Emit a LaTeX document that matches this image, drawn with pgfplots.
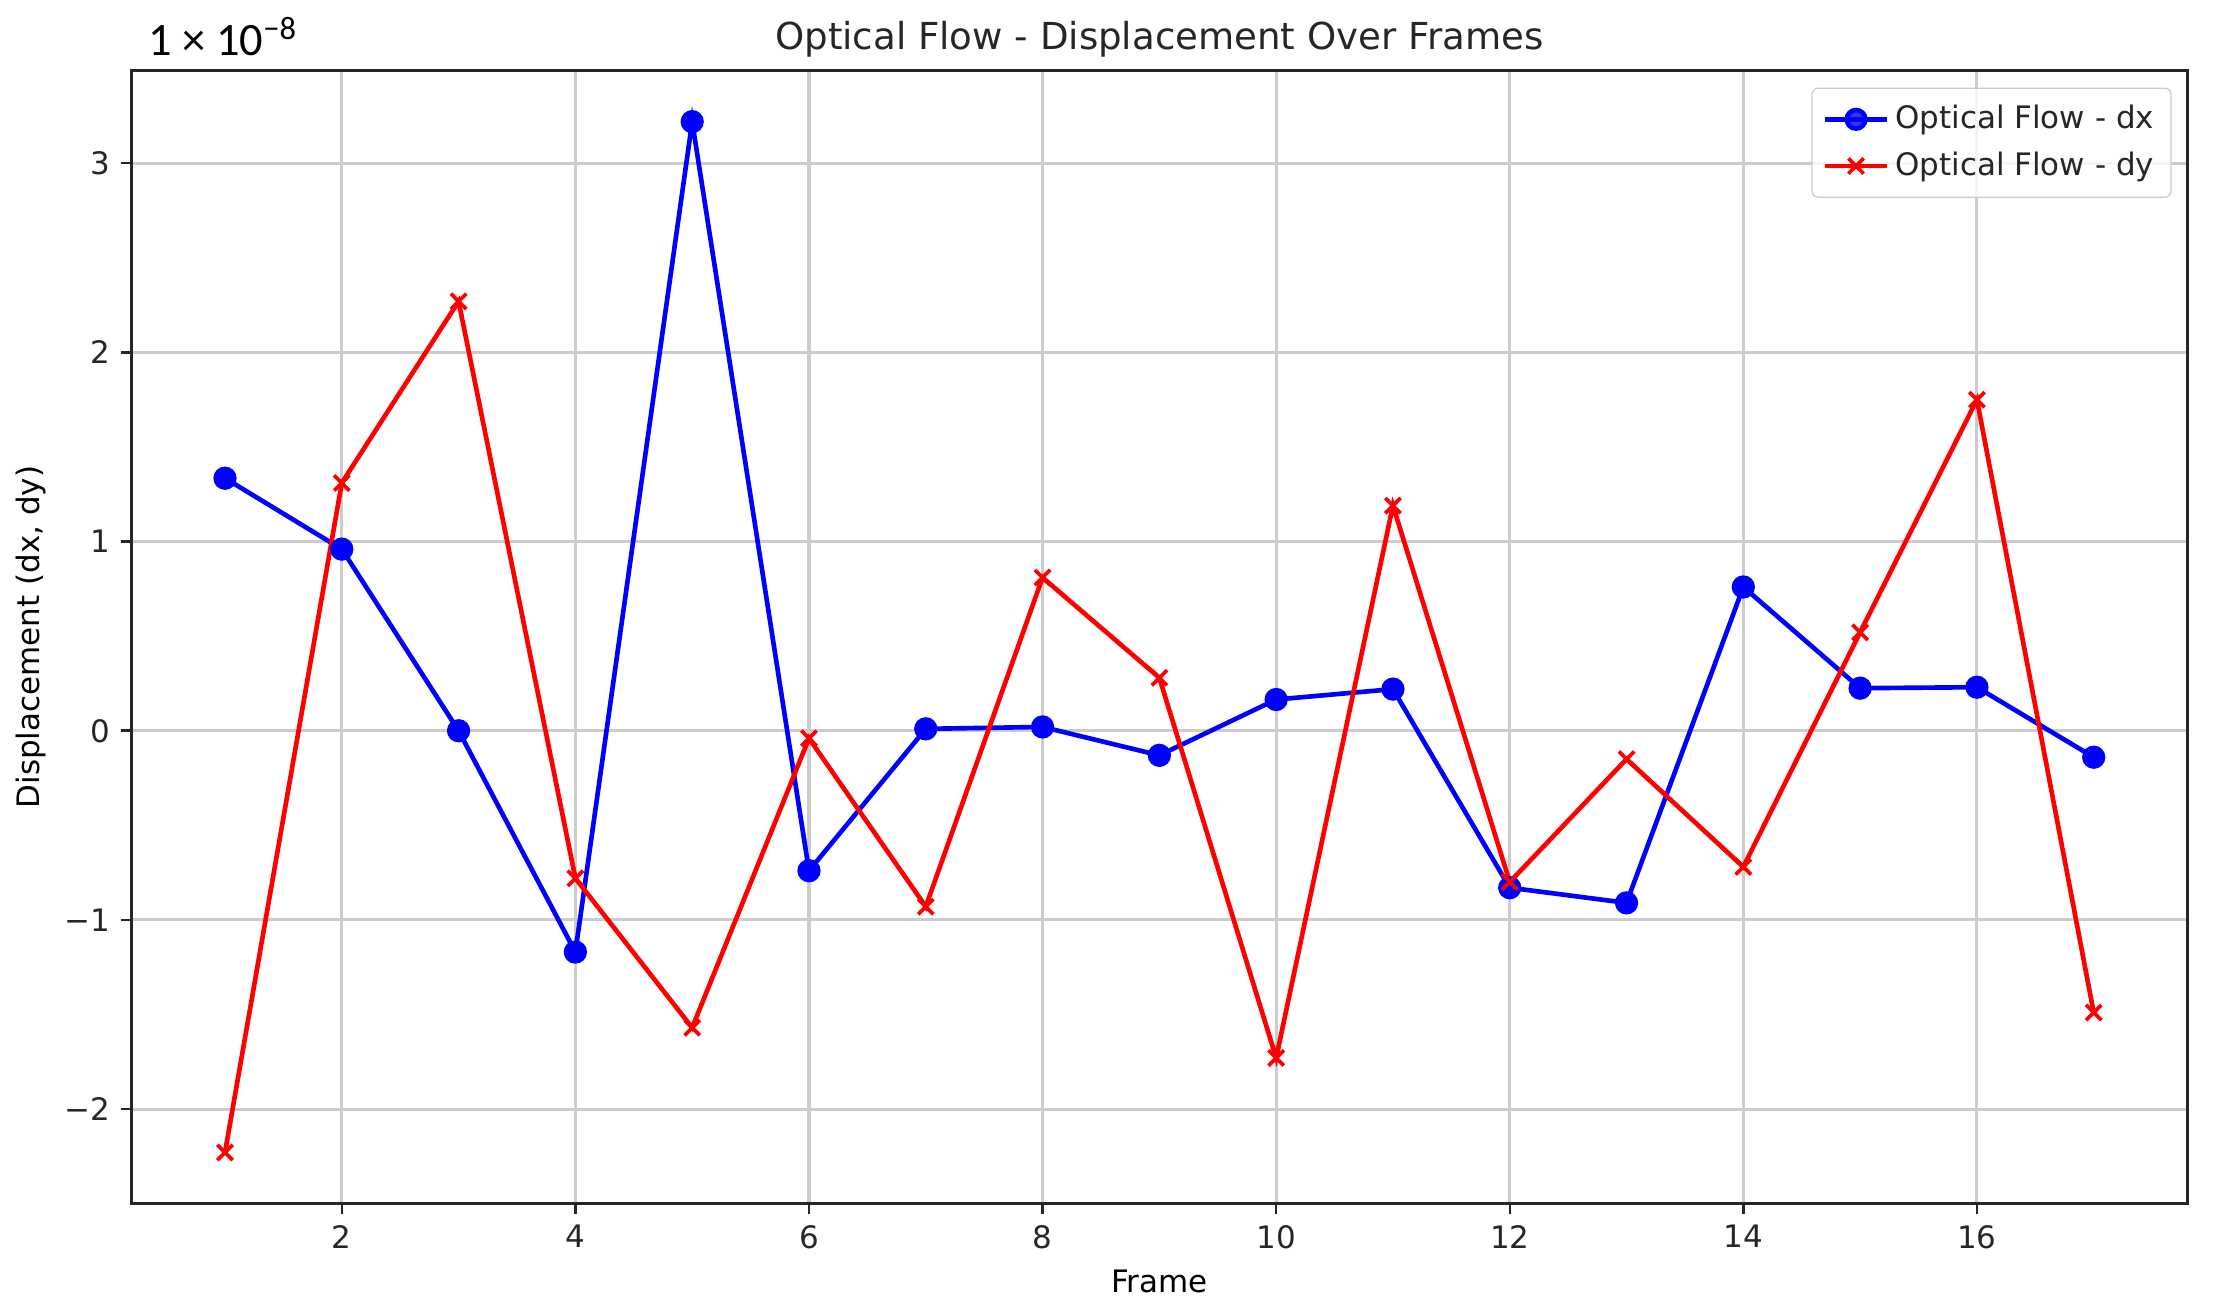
\documentclass[border=0pt]{standalone}
\usepackage{fontspec}
\setmainfont{DejaVu Sans}
\newfontfamily\calfont{Carlito}
\usepackage{pgfplots}
\pgfplotsset{compat=1.18}
\begin{document}
\begin{tikzpicture}
\begin{axis}[
  scale only axis, width=664pt, height=366pt,
  xmin=0.2, xmax=17.8, ymin=-2.5, ymax=3.49,
  xtick={2,4,6,8,10,12,14,16},
  xticklabels={2,4,6,8,10,12,14,16},
  ytick={-2,-1,0,1,2,3},
  yticklabels={−2,−1,0,1,2,3},
  grid=major,
  major grid style={color=black!20, line width=1pt},
  axis line style={line width=0.9pt, black!85},
  tick align=outside, tick pos=left, major tick length=3.5pt,
  tick style={line width=0.8pt, black!85},
  ticklabel style={font=\fontsize{10}{12}\selectfont, text=black!85},
  /pgf/number format/assume math mode=true,
  xlabel={Frame},
  ylabel={Displacement (dx, dy)},
  label style={font=\fontsize{10}{12}\selectfont, text=black!85},
  every axis x label/.style={at={([yshift=-25pt]axis description cs:0.5,0)}, anchor=center},
  every axis y label/.style={at={([xshift=-32.5pt]axis description cs:0,0.5)}, anchor=center, rotate=90},
  title={Optical Flow - Displacement Over Frames},
  every axis title/.style={at={([yshift=10pt]axis description cs:0.5,1)}, anchor=center, font=\fontsize{12}{14}\selectfont, text=black!85},
  legend style={at={(0.9925,0.985)}, anchor=north east, draw=black!20, rounded corners=2pt,
    fill=white, fill opacity=0.8, text opacity=1, font=\fontsize{10}{12}\selectfont, text=black!85,
    inner sep=3.5pt, row sep=2pt},
  legend cell align=left,
  legend image code/.code={\draw[mark repeat=2,mark phase=2] plot coordinates {(0cm,0cm)(0.35cm,0cm)(0.7cm,0cm)};},
]
\addplot[color=blue, line width=1.5pt, mark=*, mark size=3pt, mark options={solid}] coordinates {
(1,1.335) (2,0.96) (3,0.0) (4,-1.17) (5,3.22) (6,-0.74) (7,0.01) (8,0.02) (9,-0.13)
(10,0.165) (11,0.22) (12,-0.83) (13,-0.91) (14,0.76) (15,0.225) (16,0.23) (17,-0.14)
};
\addlegendentry{Optical Flow - dx}
\addplot[color=red, line width=1.5pt, mark=x, mark size=3.5pt, mark options={line width=1.2pt}] coordinates {
(1,-2.23) (2,1.31) (3,2.27) (4,-0.78) (5,-1.57) (6,-0.04) (7,-0.93) (8,0.81) (9,0.28)
(10,-1.73) (11,1.19) (12,-0.80) (13,-0.15) (14,-0.72) (15,0.52) (16,1.75) (17,-1.49)
};
\addlegendentry{Optical Flow - dy}
\end{axis}
\node[anchor=west, font=\calfont\fontsize{15}{17}\selectfont] at ([xshift=2pt,yshift=11pt]current axis.north west) {1 × 10\textsuperscript{−8}};
\pgfresetboundingbox
\path[use as bounding box] ([xshift=-42.5pt,yshift=-35.4pt]current axis.south west) rectangle ([xshift=9pt,yshift=22.8pt]current axis.north east);
\end{tikzpicture}
\end{document}
